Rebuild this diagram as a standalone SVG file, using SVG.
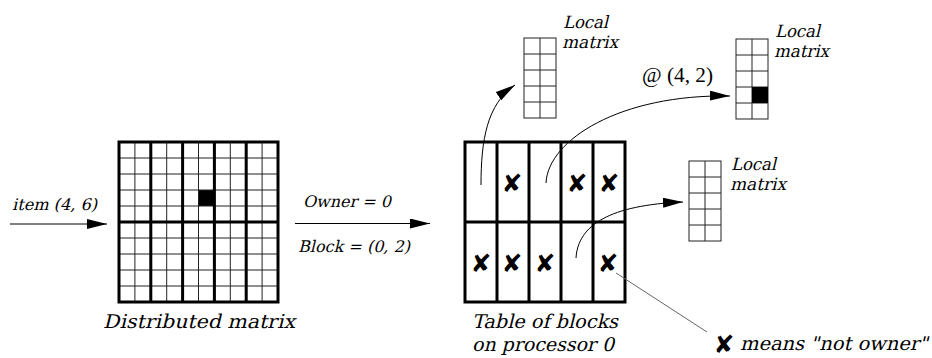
<svg xmlns="http://www.w3.org/2000/svg" xmlns:xlink="http://www.w3.org/1999/xlink" width="932" height="358" viewBox="0 0 932 358">
<style>
.it{font-family:"DejaVu Serif","Liberation Serif",serif;font-style:normal;fill:#000}
.rm{font-family:"Liberation Serif","DejaVu Serif",serif;fill:#000}
.x{font-family:"DejaVu Sans",sans-serif;font-size:25px;text-anchor:middle;fill:#000}
.thin{fill:none;stroke:#222;stroke-width:1}
.thick{fill:none;stroke:#000;stroke-width:3}
.conn{fill:none;stroke:#000;stroke-width:1}
.lead{fill:none;stroke:#666;stroke-width:1}
</style>
<defs>
<marker id="arrow" markerUnits="userSpaceOnUse" markerWidth="21" markerHeight="11" refX="20" refY="5" orient="auto" viewBox="0 0 21 11">
<path d="M0,0 L20,5 L0,10 Z" fill="#000"/>
</marker>
<g id="localGrid">
<rect x="0" y="0" width="32" height="80" fill="#fff" stroke="#222" stroke-width="1"/>
<path class="thin" d="M16,0 V80 M0,16 H32 M0,32 H32 M0,48 H32 M0,64 H32"/>
</g>
</defs>
<rect width="932" height="358" fill="#fff"/>

<g id="distributed-matrix">
<rect x="198.5" y="190" width="16" height="16" fill="#000"/>
<path class="thin" d="M119,158 H278 M119,174 H278 M119,190 H278 M119,206 H278 M119,238 H278 M119,254 H278 M119,270 H278 M119,286 H278 M134.9,142 V302 M166.7,142 V302 M198.5,142 V302 M230.3,142 V302 M262.1,142 V302"/>
<rect class="thick" x="119" y="142" width="159" height="160"/>
<path class="thick" d="M150.8,142 V302 M182.6,142 V302 M214.4,142 V302 M246.2,142 V302 M119,222 H278"/>
<text class="it" transform="translate(103,328) skewX(-14)" font-size="19" textLength="192" lengthAdjust="spacingAndGlyphs">Distributed matrix</text>
</g>

<g id="table-of-blocks">
<rect class="thick" x="465" y="142" width="160" height="160"/>
<path class="thick" d="M497,142 V302 M529,142 V302 M561,142 V302 M593,142 V302 M465,222 H625"/>
<text class="x" x="512" y="192">✘</text>
<text class="x" x="577" y="192">✘</text>
<text class="x" x="609" y="192">✘</text>
<text class="x" x="481" y="272">✘</text>
<text class="x" x="512" y="272">✘</text>
<text class="x" x="545" y="272">✘</text>
<text class="x" x="608" y="272">✘</text>
<text class="it" transform="translate(472,328) skewX(-14)" font-size="19" textLength="146" lengthAdjust="spacingAndGlyphs">Table of blocks</text>
<text class="it" transform="translate(472,351) skewX(-14)" font-size="19" textLength="142" lengthAdjust="spacingAndGlyphs">on processor 0</text>
</g>

<g id="local-matrix-1">
<use xlink:href="#localGrid" href="#localGrid" transform="translate(524,38)"/>
<text class="it" transform="translate(563,28) skewX(-14)" font-size="17" textLength="45" lengthAdjust="spacingAndGlyphs">Local</text>
<text class="it" transform="translate(562,48) skewX(-14)" font-size="17" textLength="56" lengthAdjust="spacingAndGlyphs">matrix</text>
</g>

<g id="local-matrix-2">
<use xlink:href="#localGrid" href="#localGrid" transform="translate(736,39)"/>
<rect x="752" y="87" width="16" height="16" fill="#000"/>
<text class="it" transform="translate(775,37) skewX(-14)" font-size="17" textLength="45" lengthAdjust="spacingAndGlyphs">Local</text>
<text class="it" transform="translate(774,57) skewX(-14)" font-size="17" textLength="55" lengthAdjust="spacingAndGlyphs">matrix</text>
</g>

<g id="local-matrix-3">
<use xlink:href="#localGrid" href="#localGrid" transform="translate(689,161)"/>
<text class="it" transform="translate(731,170) skewX(-14)" font-size="17" textLength="45" lengthAdjust="spacingAndGlyphs">Local</text>
<text class="it" transform="translate(730,190) skewX(-14)" font-size="17" textLength="56" lengthAdjust="spacingAndGlyphs">matrix</text>
</g>

<g id="legend">
<text class="x" x="724" y="353">✘</text>
<text class="it" transform="translate(740,350) skewX(-14)" font-size="19" textLength="188" lengthAdjust="spacingAndGlyphs">means "not owner"</text>
</g>

<g id="connectors">
<path class="conn" d="M10,224 H107" marker-end="url(#arrow)"/>
<text class="it" transform="translate(12,210) skewX(-14)" font-size="16" textLength="85" lengthAdjust="spacingAndGlyphs">item (4, 6)</text>
<path class="conn" d="M295,223.5 H430" marker-end="url(#arrow)"/>
<text class="it" transform="translate(303,207) skewX(-14)" font-size="16" textLength="88" lengthAdjust="spacingAndGlyphs">Owner = 0</text>
<text class="it" transform="translate(298,252) skewX(-14)" font-size="16" textLength="112" lengthAdjust="spacingAndGlyphs">Block = (0, 2)</text>
<path class="conn" d="M481,185 C481,140 487,104 515,85" marker-end="url(#arrow)"/>
<path class="conn" d="M546,183 C548,140 620,94 730,96" marker-end="url(#arrow)"/>
<text class="rm" x="642" y="82" font-size="20" textLength="71" lengthAdjust="spacingAndGlyphs">@ (4, 2)</text>
<path class="conn" d="M576,258 C578,225 610,205 683,202" marker-end="url(#arrow)"/>
<path class="lead" d="M616,273 L707,332"/>
</g>
</svg>
